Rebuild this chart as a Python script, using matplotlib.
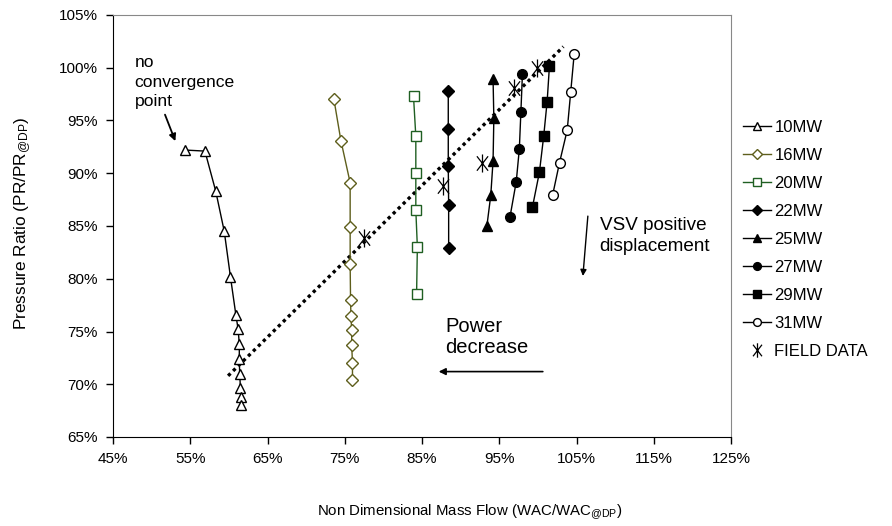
import matplotlib
matplotlib.use("Agg")
import matplotlib.pyplot as plt
from matplotlib.path import Path
from matplotlib.ticker import FuncFormatter

plt.rcParams['font.family'] = ['Liberation Sans', 'DejaVu Sans']
plt.rcParams['mathtext.fontset'] = 'custom'
plt.rcParams['mathtext.rm'] = 'Liberation Sans'
plt.rcParams['mathtext.default'] = 'regular'

# mass flow (%) and pressure ratio (%) per power level
x_10 = [54.3, 56.9, 58.3, 59.4, 60.2, 60.9, 61.2, 61.35, 61.35, 61.4, 61.5, 61.6, 61.6]
y_10 = [92.2, 92.1, 88.3, 84.5, 80.2, 76.6, 75.2, 73.8, 72.4, 71.0, 69.6, 68.8, 68.0]
x_16 = [73.6, 74.5, 75.7, 75.7, 75.7, 75.75, 75.8, 75.9, 75.9, 76.0, 76.0]
y_16 = [97.0, 93.1, 89.1, 84.9, 81.4, 78.0, 76.5, 75.1, 73.7, 72.0, 70.4]
x_20 = [83.9, 84.2, 84.2, 84.2, 84.4, 84.3]
y_20 = [97.3, 93.5, 90.0, 86.5, 83.0, 78.6]
x_22 = [88.4, 88.4, 88.4, 88.45, 88.45]
y_22 = [97.8, 94.2, 90.7, 87.0, 82.9]
x_25 = [94.2, 94.3, 94.2, 93.9, 93.4]
y_25 = [98.9, 95.2, 91.2, 87.9, 85.0]
x_27 = [98.0, 97.8, 97.6, 97.2, 96.4]
y_27 = [99.4, 95.8, 92.3, 89.2, 85.9]
x_29 = [101.5, 101.2, 100.75, 100.2, 99.3]
y_29 = [100.2, 96.8, 93.5, 90.1, 86.8]
x_31 = [104.7, 104.25, 103.8, 102.8, 101.9]
y_31 = [101.3, 97.7, 94.1, 91.0, 87.9]

x_field = [77.5, 87.7, 92.8, 96.95, 99.9]
y_field = [83.9, 88.8, 91.0, 98.1, 100.0]

# dotted trend line end points
x_trend = [59.9, 103.3]
y_trend = [70.8, 102.0]

series = [
    ('10MW', x_10, y_10, '^', 'black', 'white'),
    ('16MW', x_16, y_16, 'D', '#5e5e1c', 'white'),
    ('20MW', x_20, y_20, 's', '#1f5f22', 'white'),
    ('22MW', x_22, y_22, 'D', 'black', 'black'),
    ('25MW', x_25, y_25, '^', 'black', 'black'),
    ('27MW', x_27, y_27, 'o', 'black', 'black'),
    ('29MW', x_29, y_29, 's', 'black', 'black'),
    ('31MW', x_31, y_31, 'o', 'black', 'white'),
]

# excel style star: X plus a vertical stroke
star = Path([(0, -1), (0, 1), (-0.62, -0.8), (0.62, 0.8), (-0.62, 0.8), (0.62, -0.8)],
            [Path.MOVETO, Path.LINETO, Path.MOVETO, Path.LINETO, Path.MOVETO, Path.LINETO])

fig = plt.figure(figsize=(8.92, 5.26), dpi=100)
ax = fig.add_axes([113 / 892, 89 / 526, 618 / 892, 422 / 526])

ax.plot(x_trend, y_trend, linestyle=(0, (1, 1.1)), color='black', linewidth=2.4)

handles = []
for name, xs, ys, mk, col, face in series:
    ms = {'D': 6, 's': 6.5}.get(mk, 7)
    h, = ax.plot(xs, ys, color=col, linewidth=1, marker=mk, markersize=ms,
                 markerfacecolor=face, markeredgecolor=col, markeredgewidth=1,
                 label=name)
    handles.append(h)

hf, = ax.plot(x_field, y_field, linestyle='none', marker=star, markersize=13,
              color='black', markerfacecolor='none', markeredgewidth=0.9,
              label='FIELD DATA')
handles.append(hf)

ax.set_xlim(45, 125)
ax.set_ylim(65, 105)
ax.set_xticks(range(45, 126, 10))
ax.set_yticks(range(65, 106, 5))
pct = FuncFormatter(lambda v, p: f'{v:.0f}%')
ax.xaxis.set_major_formatter(pct)
ax.yaxis.set_major_formatter(pct)
ax.tick_params(direction='out', length=5, width=1, labelsize=11, pad=6)

for s in ['top', 'right']:
    ax.spines[s].set_color('#888888')
for s in ['left', 'bottom']:
    ax.spines[s].set_color('black')

fig.text(23 / 892, 1 - 223 / 526, r'Pressure Ratio (PR/PR$_{@DP}$)', rotation=90,
         ha='center', va='center', fontsize=12.4)
fig.text(470 / 892, 14 / 526, r'Non Dimensional Mass Flow (WAC/WAC$_{@DP}$)',
         ha='center', va='center', fontsize=10.8)

# annotations
ax.text(47.8, 101.2, 'no\nconvergence\npoint', fontsize=12.6, va='top', ha='left',
        linespacing=1.37)
ax.annotate('', xy=(53.2, 92.8), xytext=(51.6, 95.8),
            arrowprops=dict(arrowstyle='-|>', color='black', lw=1.3,
                            mutation_scale=10))
ax.text(88.0, 76.4, 'Power\ndecrease', fontsize=14.5, va='top', ha='left',
        linespacing=1.15)
ax.annotate('', xy=(86.8, 71.2), xytext=(101.0, 71.2),
            arrowprops=dict(arrowstyle='-|>', color='black', lw=1.2,
                            mutation_scale=10))
ax.text(108.0, 85.9, 'VSV positive\ndisplacement', fontsize=13.6, va='top',
        ha='left', linespacing=1.33)
ax.annotate('', xy=(105.8, 80.0), xytext=(106.5, 86.2),
            arrowprops=dict(arrowstyle='-|>', color='black', lw=1.0,
                            mutation_scale=9))

fig.legend(handles=handles, loc='upper left',
           bbox_to_anchor=(736 / 892, 1 - 113 / 526), frameon=False,
           fontsize=12, handlelength=1.7, handletextpad=0.2, markerscale=0.8,
           labelspacing=0.78, borderaxespad=0)

fig.savefig('out.png', dpi=100)
